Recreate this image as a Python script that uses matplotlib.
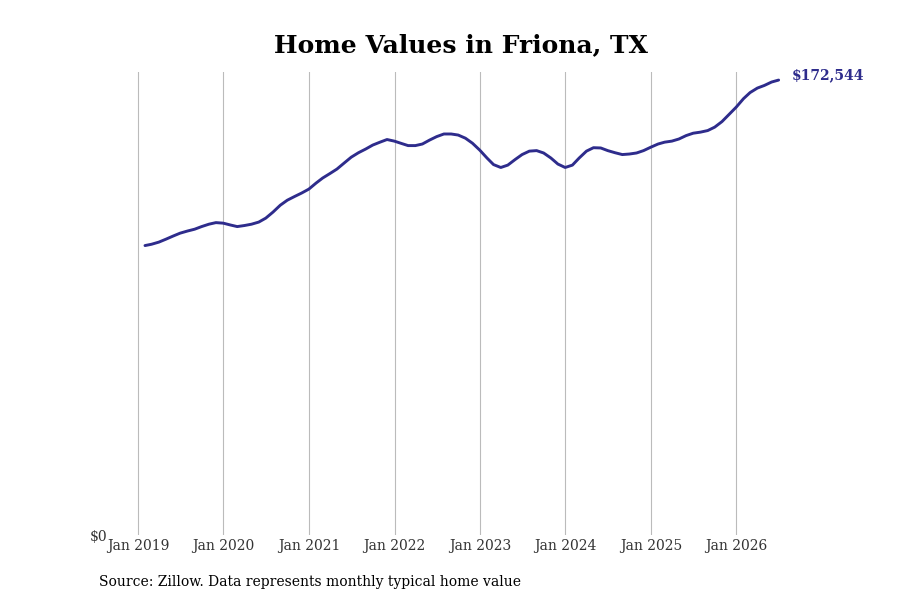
import numpy as np
import pandas as pd
import matplotlib
matplotlib.use("Agg")
import matplotlib.pyplot as plt
import matplotlib.dates as mdates

# monthly typical home value, end of month, Jan 2019 - Jun 2026
dates = pd.date_range("2019-01-31", "2026-06-30", freq="ME")
values = [
    109800, 110300, 111100, 112200, 113400, 114500, 115300, 116000, 117000, 117900, 118500, 118300,
    117600, 117000, 117400, 117900, 118700, 120200, 122500, 125100, 127000, 128400, 129700, 131200,
    133500, 135400, 137100, 138800, 141100, 143300, 145000, 146400, 147900, 149000, 150000, 149400,
    148500, 147700, 147700, 148300, 149800, 151100, 152100, 152100, 151700, 150500, 148600, 146000,
    143000, 140500, 139400, 140300, 142400, 144300, 145600, 145800, 144900, 143000, 140700, 139400,
    140300, 143000, 145600, 146900, 146800, 145800, 145000, 144300, 144500, 144900, 145800, 147100,
    148300, 149000, 149400, 150200, 151500, 152400, 152800, 153400, 154700, 156800, 159500, 162300,
    165500, 167800, 169500, 170500, 171800, 172544,
]
tick_years = list(range(2019, 2027))
tick_labels = ["Jan %d" % y for y in tick_years]

title = "Home Values in Friona, TX"
source = "Source: Zillow. Data represents monthly typical home value"
line_color = "#2e2c8c"

plt.rcParams["font.family"] = "DejaVu Serif"

fig = plt.figure(figsize=(9, 6), dpi=100)
ax = fig.add_axes([0.12, 0.108, 0.78, 0.772])

ax.plot(dates, values, color=line_color, lw=2.1, solid_capstyle="round")

ax.set_xlim(pd.Timestamp("2018-08-26"), pd.Timestamp("2026-11-11"))
ax.set_ylim(0, 175600)

ax.set_xticks([pd.Timestamp("%d-01-01" % y) for y in tick_years])
ax.set_xticklabels(tick_labels, fontsize=10, color="#333333")
ax.set_yticks([0])
ax.set_yticklabels(["$0"], fontsize=10, color="#333333")
ax.tick_params(axis="both", length=0)
ax.tick_params(axis="x", pad=3)
ax.tick_params(axis="y", pad=0.5)

ax.grid(axis="x", color="#bbbbbb", lw=0.8)
ax.grid(axis="y", visible=False)
for s in ax.spines.values():
    s.set_visible(False)

ax.annotate("$%s" % format(values[-1], ","), xy=(dates[-1], values[-1]),
            xytext=(9.5, 3.5), textcoords="offset points", va="center", ha="left",
            fontsize=10, fontweight="bold", color=line_color)

fig.text(0.512, 0.925, title, ha="center", va="center", fontsize=18, fontweight="bold")
fig.text(0.11, 0.03, source, ha="left", va="center", fontsize=10)

fig.savefig("out.png", dpi=100)
